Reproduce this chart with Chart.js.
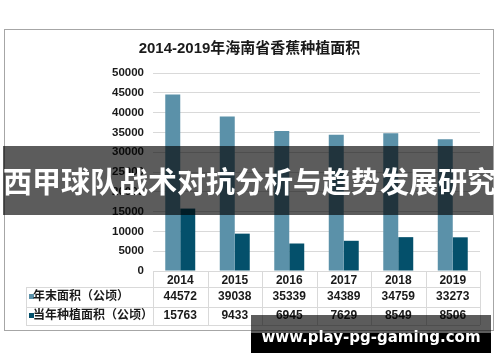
<!DOCTYPE html>
<html>
<head>
<meta charset="utf-8">
<script src="https://cdn.jsdelivr.net/npm/chart.js@4"></script>
<style>
  html, body { margin: 0; padding: 0; background: #fff; }
  #wrap { position: relative; width: 500px; height: 362px; overflow: hidden; }
  #banner {
    position: absolute; left: 3px; top: 146px; width: 490px; height: 69px;
    background: rgba(0, 0, 0, 0.64);
    color: #fff; font: bold 29px "Noto Sans CJK SC", sans-serif;
    line-height: 69px; text-align: center; white-space: nowrap;
  }
  #mark-top {
    position: absolute; left: 251px; top: 315px; width: 240px; height: 18px;
    background: rgba(0, 0, 0, 0.64);
  }
  #mark-bottom {
    position: absolute; left: 251px; top: 333px; width: 240px; height: 20px;
    background: #000;
  }
  #mark-text {
    position: absolute; left: 251px; top: 327px; width: 240px; height: 20px;
    color: #fff; font: bold 15px "DejaVu Sans", sans-serif;
    line-height: 20px; text-align: center; white-space: nowrap;
  }
</style>
</head>
<body>
<div id="wrap">
  <canvas id="chart" width="500" height="362"></canvas>
  <div id="banner">西甲球队战术对抗分析与趋势发展研究</div>
  <div id="mark-top"></div>
  <div id="mark-bottom"></div>
  <div id="mark-text">www.play-pg-gaming.com</div>
</div>
<script>
const years = ['2014', '2015', '2016', '2017', '2018', '2019'];
const yearEndArea = [44572, 39038, 35339, 34389, 34759, 33273];
const plantedArea = [15763, 9433, 6945, 7629, 8549, 8506];
const seriesNames = ['年末面积（公顷）', '当年种植面积（公顷）'];
const seriesColors = ['#5b91a9', '#04506b'];
const chartTitle = '2014-2019年海南省香蕉种植面积';

const fontFamily = '"Liberation Sans", "Noto Sans CJK SC", sans-serif';
const gridColor = '#d9d9d9';

// frame round the whole chart
const framePlugin = {
  id: 'frame',
  beforeDraw(chart) {
    const ctx = chart.ctx;
    ctx.save();
    ctx.strokeStyle = '#a6a6a6';
    ctx.lineWidth = 1;
    ctx.strokeRect(4.5, 29.5, 489, 301);
    ctx.restore();
  }
};

// data table under the x axis, columns follow the x scale
const tablePlugin = {
  id: 'dataTable',
  afterDraw(chart) {
    const ctx = chart.ctx;
    const xs = chart.scales.x;
    const area = chart.chartArea;
    const colW = (area.right - area.left) / years.length;
    const headTop = area.bottom;
    const rowTops = [headTop + 16, headTop + 36];
    const rowH = [20, 18];
    const tableLeft = 26;
    const tableBottom = rowTops[1] + rowH[1];
    const rows = [yearEndArea, plantedArea];

    ctx.save();
    ctx.strokeStyle = gridColor;
    ctx.lineWidth = 1;
    ctx.beginPath();
    ctx.moveTo(area.left, headTop + 0.5);
    ctx.lineTo(area.right, headTop + 0.5);
    [rowTops[0], rowTops[1], tableBottom].forEach(y => {
      ctx.moveTo(tableLeft, y + 0.5);
      ctx.lineTo(area.right, y + 0.5);
    });
    for (let i = 0; i <= years.length; i++) {
      const x = Math.round(area.left + i * colW) + 0.5;
      ctx.moveTo(x, headTop);
      ctx.lineTo(x, tableBottom);
    }
    ctx.moveTo(tableLeft + 0.5, rowTops[0]);
    ctx.lineTo(tableLeft + 0.5, tableBottom);
    ctx.stroke();

    ctx.textBaseline = 'middle';
    rows.forEach((vals, r) => {
      const cy = rowTops[r] + rowH[r] / 2;
      ctx.fillStyle = seriesColors[r];
      ctx.fillRect(tableLeft + 3, cy - 3, 5, 5);
      ctx.fillStyle = '#1a1a1a';
      ctx.textAlign = 'left';
      ctx.font = 'bold 12px ' + fontFamily;
      ctx.fillText(seriesNames[r], tableLeft + 7, cy);
      ctx.textAlign = 'center';
      ctx.font = 'bold 12px ' + fontFamily;
      vals.forEach((v, i) => {
        ctx.fillText(String(v), xs.getPixelForValue(i), cy);
      });
    });
    ctx.restore();
  }
};

new Chart(document.getElementById('chart'), {
  type: 'bar',
  data: {
    labels: years,
    datasets: [
      { label: seriesNames[0], data: yearEndArea, backgroundColor: seriesColors[0] },
      { label: seriesNames[1], data: plantedArea, backgroundColor: seriesColors[1] }
    ]
  },
  options: {
    responsive: false,
    animation: false,
    events: [],
    layout: { padding: { top: 40, left: 19, right: 20, bottom: 75 } },
    datasets: { bar: { categoryPercentage: 0.55, barPercentage: 1 } },
    scales: {
      x: {
        grid: { display: false, drawTicks: false },
        border: { display: false },
        ticks: {
          color: '#1a1a1a',
          font: { family: fontFamily, size: 12, weight: 'bold' },
          padding: 2,
          maxRotation: 0
        },
        afterFit(scale) { scale.height = 16; }
      },
      y: {
        min: 0,
        max: 50000,
        grid: { color: gridColor, drawTicks: false },
        border: { display: false },
        ticks: {
          stepSize: 5000,
          color: '#1a1a1a',
          padding: 9,
          font: { family: fontFamily, size: 11.5, weight: 'bold' },
          callback: v => String(v)
        },
        afterFit(scale) { scale.width = 134; }
      }
    },
    plugins: {
      legend: { display: false },
      tooltip: { enabled: false },
      title: {
        display: true,
        text: chartTitle,
        color: '#1a1a1a',
        font: { family: fontFamily, size: 15, weight: 'bold' },
        padding: { top: 0, bottom: 15 }
      }
    }
  },
  plugins: [framePlugin, tablePlugin]
});
</script>
</body>
</html>
